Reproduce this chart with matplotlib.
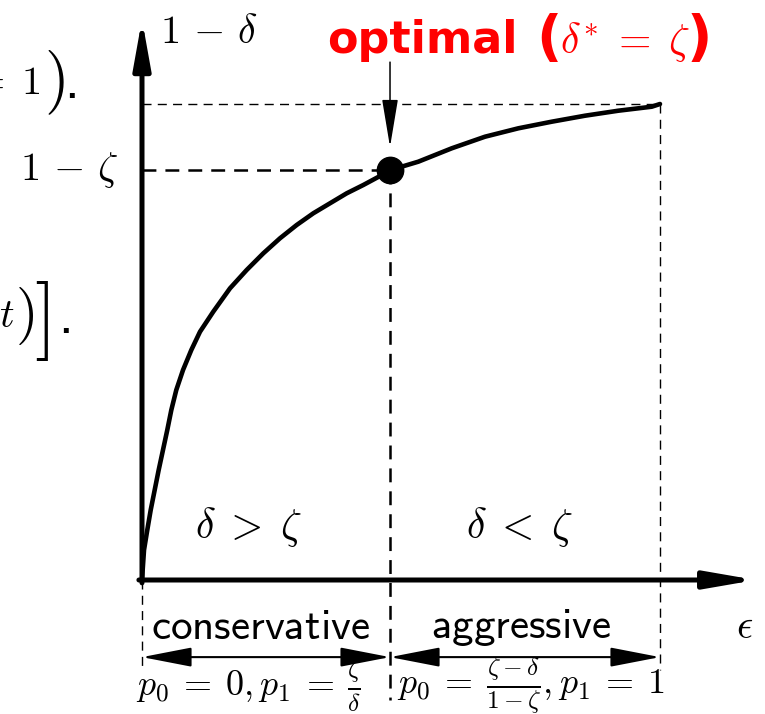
# Trade-off curve between epsilon and 1 - delta, optimal point at delta* = zeta
import matplotlib.pyplot as plt

plt.rcParams['mathtext.fontset'] = 'cm'
plt.rcParams['lines.scale_dashes'] = False

# curve samples (epsilon normalised to the right end, 1 - delta normalised to the top)
eps_vals = [0.0, 0.0039, 0.0102, 0.0168, 0.0245, 0.0322, 0.0405, 0.0488,
            0.0566, 0.0662, 0.0792, 0.0952, 0.1120, 0.1376, 0.1699, 0.2021,
            0.2342, 0.2664, 0.2986, 0.3307, 0.3629, 0.3952, 0.4272, 0.4595,
            0.4788, 0.5334, 0.5979, 0.6622, 0.7264, 0.7909, 0.8552, 0.9195,
            0.9840, 1.0]
perf_vals = [0.0, 0.0630, 0.1050, 0.1471, 0.1891, 0.2311, 0.2731, 0.3151,
             0.3571, 0.3992, 0.4412, 0.4832, 0.5216, 0.5637, 0.6128, 0.6513,
             0.6863, 0.7179, 0.7458, 0.7704, 0.7914, 0.8124, 0.8298, 0.8487,
             0.861, 0.8788, 0.9069, 0.9313, 0.9489, 0.9628, 0.9754, 0.9859,
             0.9943, 1.0]

eps_opt = 0.4788
perf_opt = 0.861
eps_max = 1.0
perf_max = 1.0

region_names = ['conservative', 'aggressive']
region_conds = [r'$\delta\;>\;\zeta$', r'$\delta\;<\;\zeta$']
region_probs = [r'$p_0\:=\:0,p_1\:=\:\frac{\zeta}{\delta}$',
                r'$p_0\:=\:\frac{\zeta-\delta}{1-\zeta},p_1\:=\:1$']
cond_x = [0.2066, 0.7297]
name_x = [0.2297, 0.7317]
prob_x = [0.2066, 0.751]

fig = plt.figure(figsize=(7.65, 7.14), dpi=100)
ax = fig.add_axes([142 / 765, 134 / 714, 518 / 765, 476 / 714])
ax.set_xlim(0, 1)
ax.set_ylim(0, 1)
ax.axis('off')

k = dict(clip_on=False)


def arrow(start, end, style, lw):
    ax.annotate('', xy=end, xytext=start, annotation_clip=False,
                arrowprops=dict(arrowstyle=style, lw=lw, color='black',
                                shrinkA=0, shrinkB=0))


# axes with arrow heads
arrow((-0.006, 0), (1.185, 0), '-|>,head_length=3.0,head_width=0.52', 3.6)
arrow((0, -0.006), (0, 1.178), '-|>,head_length=2.9,head_width=0.52', 3.6)

# guide lines
thin = dict(color='black', lw=1.0, dashes=(6.5, 4.5), **k)
thick = dict(color='black', lw=1.8, dashes=(10, 6.5), **k)
ax.plot([0, eps_max], [perf_max, perf_max], **thin)
ax.plot([eps_max, eps_max], [perf_max, -0.189], **thin)
ax.plot([0, 0], [0, -0.189], **thin)
ax.plot([0, eps_opt], [perf_opt, perf_opt], **thick)
ax.plot([eps_opt, eps_opt], [perf_opt, -0.252], **thick)

# the curve and the optimal point
ax.plot(eps_vals, perf_vals, color='black', lw=3.3, solid_capstyle='round',
        solid_joinstyle='round', **k)
ax.plot([eps_opt], [perf_opt], 'o', color='black', ms=19, **k)

arrow((eps_opt, 1.088), (eps_opt, 0.9097), '-|>,head_length=3.0,head_width=0.5', 1.1)

# axis labels
ax.text(0.035, 1.128, r'$1\,-\,\delta$', fontsize=29, ha='left', va='baseline', **k)
ax.text(-0.045, perf_opt, r'$1\,-\,\zeta$', fontsize=29, ha='right', va='center', **k)
ax.text(1.163, -0.099, r'$\epsilon$', fontsize=29, ha='center', va='center', **k)

red_bold = dict(fontweight='bold', color='red', family='DejaVu Sans', **k)
ax.text(0.357, 1.107, 'optimal', fontsize=32, ha='left', va='baseline', **red_bold)
ax.text(0.762, 1.134, '(', fontsize=40, ha='left', va='center', **red_bold)
ax.text(0.807, 1.107, r'$\delta^{*}\;=\;\zeta$', fontsize=30, color='red',
        ha='left', va='baseline', **k)
ax.text(1.052, 1.134, ')', fontsize=40, ha='left', va='center', **red_bold)

# regions below the axis
for i in range(2):
    ax.text(cond_x[i], 0.111, region_conds[i], fontsize=30, ha='center',
            va='center', **k)
    ax.text(name_x[i], -0.099, r'$\mathsf{' + region_names[i] + '}$',
            fontsize=31, ha='center', va='center', **k)
    ax.text(prob_x[i], -0.222, region_probs[i], fontsize=26, ha='center',
            va='center', **k)

arrow((0, -0.162), (eps_opt, -0.162), '<|-|>,head_length=3.1,head_width=0.6', 1.5)
arrow((eps_opt, -0.162), (eps_max, -0.162), '<|-|>,head_length=3.1,head_width=0.6', 1.5)

# text running in from the left margin
ax.text(-0.195, 1.044, r'$(x\;=\;1$', fontsize=29, ha='right', va='center', **k)
ax.text(-0.189, 1.044, r'$)$', fontsize=46, ha='left', va='center', **k)
ax.text(-0.147, 1.0126, '.', fontsize=20, fontweight='bold', ha='left',
        va='baseline', **k)
ax.text(-0.245, 0.5546, r'$\log(1+t$', fontsize=29, ha='right', va='center', **k)
ax.text(-0.245, 0.5546, r'$)$', fontsize=42, ha='left', va='center', **k)
ax.text(-0.209, 0.544, r'$]$', fontsize=58, ha='left', va='center', **k)
ax.text(-0.158, 0.519, '.', fontsize=20, fontweight='bold', ha='left',
        va='baseline', **k)

fig.savefig('out.png', dpi=100)
